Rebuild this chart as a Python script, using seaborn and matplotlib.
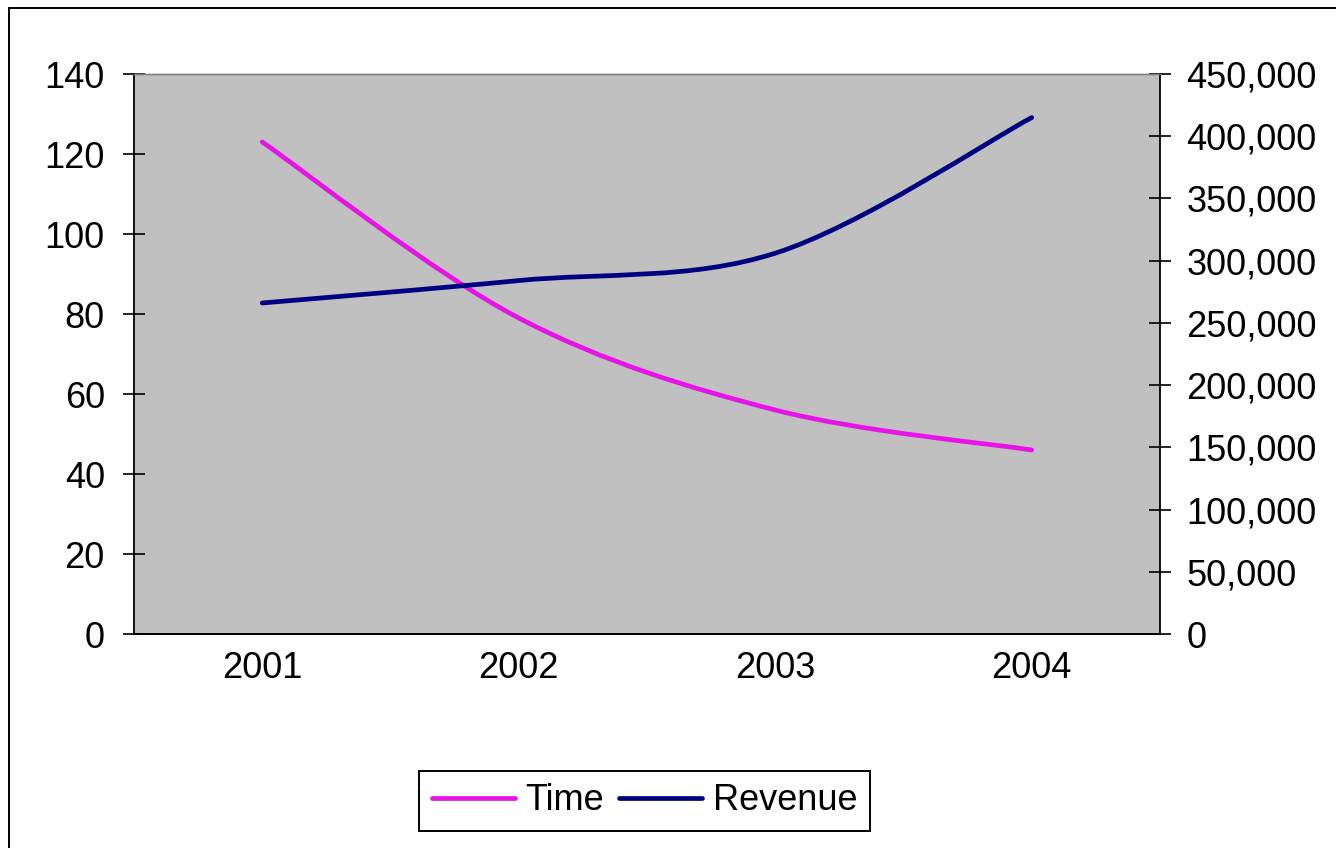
import numpy as np
import pandas as pd
import matplotlib
matplotlib.use("Agg")
import matplotlib.pyplot as plt
import seaborn as sns
from matplotlib.path import Path
from matplotlib.patches import PathPatch, Rectangle
from matplotlib.lines import Line2D
from matplotlib.ticker import FuncFormatter, FixedLocator

# --- data -------------------------------------------------------------
years = ["2001", "2002", "2003", "2004"]
time_values = [123, 79, 56, 46]
revenue_values = [266000, 284000, 306000, 415000]

time_ticks = [0, 20, 40, 60, 80, 100, 120, 140]
revenue_ticks = [0, 50000, 100000, 150000, 200000, 250000, 300000, 350000, 400000, 450000]

TIME_COLOR = "#E614E6"
REVENUE_COLOR = "#000080"
PLOT_BG = "#C0C0C0"

sns.set_theme(style="white")
plt.rcParams["font.family"] = ["Liberation Sans", "DejaVu Sans"]
plt.rcParams["text.color"] = "black"

W, H = 1336, 848
fig = plt.figure(figsize=(W / 100, H / 100), dpi=100)
fig.patch.set_facecolor("white")

# outer chart-area border
fig.patches.append(Rectangle((9 / W, -0.2), 2.0, (1 - 8 / H) + 0.2,
                             transform=fig.transFigure, fill=False,
                             edgecolor="black", linewidth=1.4))

left, right, top, bottom = 134, 1160, 74, 634
ax = fig.add_axes([left / W, 1 - bottom / H, (right - left) / W, (bottom - top) / H])
ax.set_facecolor(PLOT_BG)
ax2 = ax.twinx()

df = pd.DataFrame({"pos": np.arange(len(years)), "Time": time_values, "Revenue": revenue_values})


def smooth_path(x, y):
    """Cubic Bezier path through every point (Catmull-Rom style smoothing)."""
    pts = np.column_stack([x, y]).astype(float)
    n = len(pts)
    verts = [pts[0]]
    codes = [Path.MOVETO]
    for i in range(n - 1):
        p_prev = pts[i - 1] if i > 0 else pts[i]
        p0, p1 = pts[i], pts[i + 1]
        p_next = pts[i + 2] if i + 2 < n else pts[i + 1]
        c1 = p0 + (p1 - p_prev) / 6.0
        c2 = p1 - (p_next - p0) / 6.0
        verts += [c1, c2, p1]
        codes += [Path.CURVE4] * 3
    return Path(verts, codes)


LW = 3.4
ax.add_patch(PathPatch(smooth_path(df["pos"], df["Time"]), facecolor="none",
                       edgecolor=TIME_COLOR, linewidth=LW, capstyle="round", zorder=3))
ax2.add_patch(PathPatch(smooth_path(df["pos"], df["Revenue"]), facecolor="none",
                        edgecolor=REVENUE_COLOR, linewidth=LW, capstyle="round", zorder=3))

ax.set_xlim(-0.5, len(years) - 0.5)
ax.set_ylim(0, 140)
ax2.set_ylim(0, 450000)

# category boundaries carry the tick marks, labels sit in the middle
ax.xaxis.set_major_locator(FixedLocator(np.arange(-0.5, len(years), 1.0)))
ax.xaxis.set_minor_locator(FixedLocator(np.arange(len(years))))
ax.set_xticklabels([], minor=False)
ax.set_xticklabels(years, minor=True)
ax.tick_params(axis="x", which="major", direction="out", length=11, width=1.2, color="black")
ax.tick_params(axis="x", which="minor", length=0, pad=12, labelsize=26, labelcolor="black")

ax.set_yticks(time_ticks)
ax.tick_params(axis="y", direction="inout", length=16, width=1.2, color="black",
               pad=13, labelsize=26, labelcolor="black")
ax2.set_yticks(revenue_ticks)
ax2.yaxis.set_major_formatter(FuncFormatter(lambda v, p: f"{int(v):,}"))
ax2.tick_params(axis="y", direction="inout", length=16, width=1.2, color="black",
                pad=11, labelsize=26, labelcolor="black")

for a in (ax, ax2):
    a.grid(False)
    for side in ("left", "right", "bottom"):
        a.spines[side].set_color("black")
        a.spines[side].set_linewidth(1.3)
    a.spines["top"].set_color("#808080")
    a.spines["top"].set_linewidth(1.0)
ax.spines["right"].set_visible(False)
ax2.spines["left"].set_visible(False)
ax2.patch.set_visible(False)

handles = [Line2D([], [], color=TIME_COLOR, linewidth=LW),
           Line2D([], [], color=REVENUE_COLOR, linewidth=LW)]
leg = fig.legend(handles, ["Time", "Revenue"], loc="center",
                 bbox_to_anchor=(644.5 / W, 1 - 801 / H), ncol=2,
                 frameon=True, fancybox=False, shadow=False, fontsize=26,
                 handlelength=2.3, handletextpad=0.3, columnspacing=0.4,
                 borderpad=0.35, borderaxespad=0.0, labelcolor="black")
leg.get_frame().set_edgecolor("black")
leg.get_frame().set_linewidth(1.4)
leg.get_frame().set_facecolor("white")
leg.get_frame().set_alpha(1.0)

fig.savefig("out.png", dpi=100, facecolor="white")
